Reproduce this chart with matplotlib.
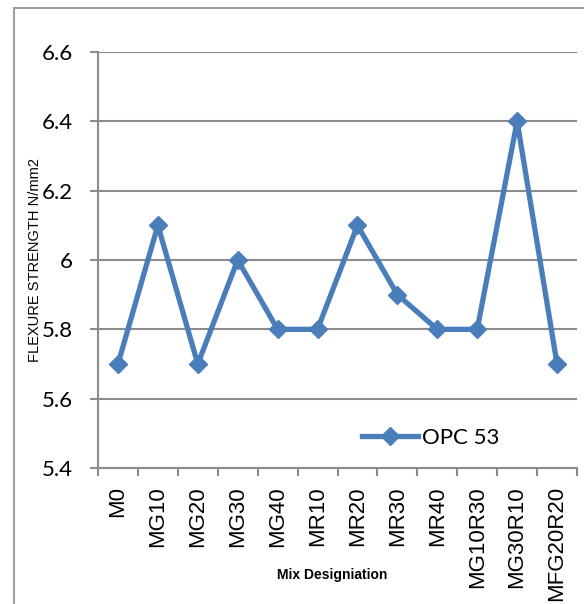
import numpy as np
import matplotlib.pyplot as plt
from matplotlib.patches import Rectangle

mixes = ["M0", "MG10", "MG20", "MG30", "MG40", "MR10", "MR20", "MR30",
         "MR40", "MG10R30", "MG30R10", "MFG20R20"]
opc53 = [5.7, 6.1, 5.7, 6.0, 5.8, 5.8, 6.1, 5.9, 5.8, 5.8, 6.4, 5.7]
yticks = [5.4, 5.6, 5.8, 6.0, 6.2, 6.4, 6.6]
ytick_labels = ["5.4", "5.6", "5.8", "6", "6.2", "6.4", "6.6"]

W, H = 584, 604
fig = plt.figure(figsize=(W / 100, H / 100), dpi=100)

# chart border (cut off at right and bottom)
fig.add_artist(Rectangle((14 / W, -0.5), 2.0, 0.5 + 1 - 8 / H, transform=fig.transFigure,
                         fill=False, edgecolor="#a0a0a0", linewidth=1.5))

ax = fig.add_axes([98 / W, 1 - 468 / H, (577 - 98) / W, (468 - 52) / H])

x = np.arange(len(mixes)) + 0.5
ax.plot(x, opc53, color="#4a7ebb", linewidth=3.8, marker="D", markersize=9.5,
        label="OPC 53")

ax.set_xlim(0, len(mixes))
ax.set_ylim(5.4, 6.6)
ax.set_yticks(yticks)
ax.set_yticklabels(ytick_labels, fontsize=16, family=["Lato", "DejaVu Sans"])
ax.yaxis.grid(True, color="#8c8c8c", linewidth=1.5)
ax.set_axisbelow(True)

ax.set_xticks(np.arange(len(mixes) + 1))
ax.set_xticklabels([])
ax.set_xticks(x, minor=True)
ax.set_xticklabels(mixes, minor=True, rotation=90, fontsize=16,
                   family=["Liberation Sans", "DejaVu Sans"])
ax.tick_params(axis="x", which="minor", length=0, pad=13)
ax.tick_params(axis="x", which="major", length=6, width=1.5, color="#8c8c8c")
ax.tick_params(axis="y", length=6, width=1.5, color="#8c8c8c", pad=12)

for s in ["top", "right"]:
    ax.spines[s].set_visible(False)
for s in ["left", "bottom"]:
    ax.spines[s].set_color("#8c8c8c")
    ax.spines[s].set_linewidth(1.5)

fig.text(35 / W, 1 - 260 / H, "FLEXURE STRENGTH N/mm2", rotation=90, ha="center", va="center",
         fontsize=10.5, family=["Liberation Sans", "DejaVu Sans"])
fig.text(332 / W, 1 - 575 / H, "Mix Designiation", ha="center", va="center",
         fontsize=10, fontweight="bold", family=["Liberation Sans", "DejaVu Sans"])

ax.legend(loc="center left", bbox_to_anchor=(362 / W, 1 - 438 / H), bbox_transform=fig.transFigure,
          frameon=False, borderpad=0, borderaxespad=0, handlelength=2.5, handletextpad=0.2,
          prop={"family": ["Lato", "DejaVu Sans"], "size": 16})

fig.savefig("out.png", dpi=100)
